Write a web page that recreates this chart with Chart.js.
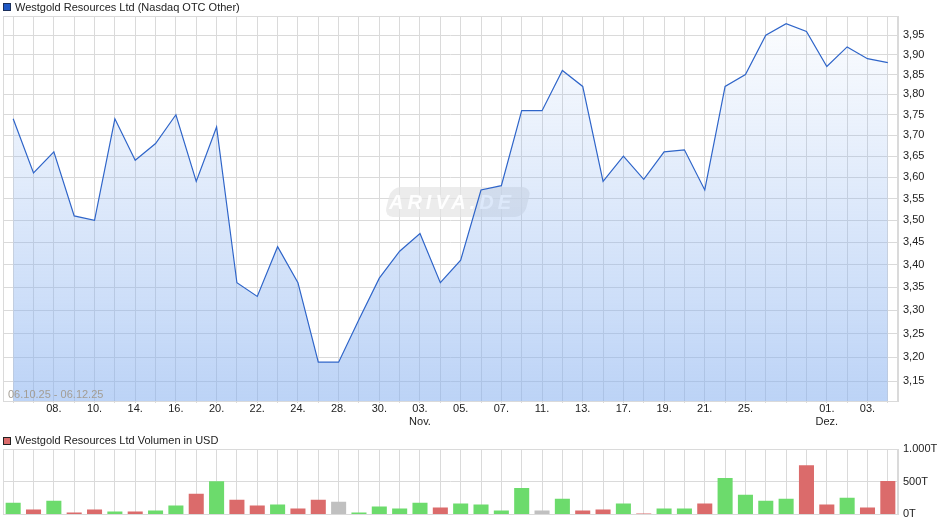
<!DOCTYPE html>
<html>
<head>
<meta charset="utf-8">
<title>Westgold Resources Ltd</title>
<script src="https://cdn.jsdelivr.net/npm/chart.js@4.4.1/dist/chart.umd.min.js"></script>
<style>
  html, body { margin: 0; padding: 0; background: #fff; }
  body { width: 940px; height: 526px; position: relative; overflow: hidden;
         font-family: "Liberation Sans", Arial, sans-serif; }
  canvas { position: absolute; left: 0; }
  #price { top: 0; }
  #volume { top: 430px; }
  .legend { position: absolute; left: 15px; font-size: 11px; line-height: 13px; color: #222; white-space: nowrap; }
  .swatch { position: absolute; left: 3px; box-sizing: border-box; border: 1px solid #1b2f5a; }
  .range { position: absolute; left: 8px; top: 388px; font-size: 11px; line-height: 13px; color: #a39d94; }
</style>
</head>
<body>
<canvas id="price" width="940" height="430"></canvas>
<canvas id="volume" width="940" height="96"></canvas>
<div class="range">06.10.25 - 06.12.25</div>
<span class="swatch" style="top:3px;width:8px;height:8px;background:#1f58c4;"></span>
<div class="legend" style="top:1px;">Westgold Resources Ltd (Nasdaq OTC Other)</div>
<span class="swatch" style="top:437px;width:8px;height:8px;background:#db6b6b;border-color:#222;"></span>
<div class="legend" style="top:434px;">Westgold Resources Ltd Volumen in USD</div>
<script>
// Kursverlauf 06.10.25 - 06.12.25 (Schlusskurse, USD)
const prices = [3.74, 3.61, 3.66, 3.51, 3.50, 3.74, 3.64, 3.68, 3.75, 3.59,
                3.72, 3.36, 3.33, 3.44, 3.36, 3.19, 3.19, 3.28, 3.37, 3.43,
                3.47, 3.36, 3.41, 3.57, 3.58, 3.76, 3.76, 3.86, 3.82, 3.59,
                3.65, 3.595, 3.66, 3.665, 3.57, 3.82, 3.85, 3.95, 3.98, 3.96,
                3.87, 3.92, 3.89, 3.88];

// Volumen in Tausend USD
const volumes = [180, 75, 210, 30, 75, 45, 45, 60, 135, 315,
                 505, 225, 135, 150, 90, 225, 195, 30, 120, 90,
                 180, 105, 165, 150, 60, 405, 60, 240, 60, 75,
                 165, 15, 90, 90, 165, 555, 300, 210, 240, 750,
                 150, 255, 105, 510];

const tickLabels = ['', '', '08.', '', '10.', '', '14.', '', '16.', '',
                    '20.', '', '22.', '', '24.', '', '28.', '', '30.', '',
                    ['03.', 'Nov.'], '', '05.', '', '07.', '', '11.', '', '13.', '',
                    '17.', '', '19.', '', '21.', '', '25.', '', '', '',
                    ['01.', 'Dez.'], '', '03.', ''];

const priceTicks = [3.15, 3.20, 3.25, 3.30, 3.35, 3.40, 3.45, 3.50, 3.55,
                    3.60, 3.65, 3.70, 3.75, 3.80, 3.85, 3.90, 3.95];
const volumeTicks = [0, 500, 1000];

const gridColor = '#dadada';
const upColor = '#6cdb6c';
const downColor = '#db6b6b';
const flatColor = '#c0c0c0';

Chart.defaults.font.family = '"Liberation Sans", Arial, sans-serif';
Chart.defaults.font.size = 11;
Chart.defaults.color = '#222';

// Rahmen um die Zeichenfläche
const frame = {
    id: 'frame',
    beforeDatasetsDraw(chart) {
        const { ctx, chartArea: a } = chart;
        ctx.save();
        ctx.strokeStyle = gridColor;
        ctx.lineWidth = 1;
        ctx.strokeRect(Math.round(a.left) + 0.5, Math.round(a.top) + 0.5,
                       Math.round(a.right - a.left) - 1, Math.round(a.bottom - a.top));
        ctx.restore();
    }
};

// Wasserzeichen unter der Kurslinie
const watermark = {
    id: 'watermark',
    beforeDatasetsDraw(chart) {
        const ctx = chart.ctx;
        const x = 384, y = 187, w = 140, h = 30, r = 9;
        ctx.save();
        ctx.transform(1, 0, -0.25, 1, 0.25 * (y + h), 0);
        ctx.fillStyle = 'rgba(228, 228, 228, 0.7)';
        ctx.beginPath();
        ctx.roundRect(x, y, w, h, r);
        ctx.fill();
        ctx.restore();
        ctx.save();
        ctx.font = 'italic bold 20px "Liberation Sans", Arial, sans-serif';
        ctx.letterSpacing = '4px';
        ctx.fillStyle = 'rgba(255, 255, 255, 0.95)';
        ctx.textAlign = 'center';
        ctx.textBaseline = 'middle';
        ctx.fillText('ARIVA.DE', 452, 203);
        ctx.restore();
    }
};

// Farbe je nach Kursveränderung zum Vortag
const barColors = prices.map((p, i) => {
    if (i === 0 || p > prices[i - 1]) return upColor;
    if (p < prices[i - 1]) return downColor;
    return flatColor;
});

new Chart(document.getElementById('price'), {
    type: 'line',
    data: {
        labels: tickLabels,
        datasets: [{
            data: prices,
            borderColor: '#2f65c9',
            borderWidth: 1.2,
            pointRadius: 0,
            tension: 0,
            fill: 'start',
            backgroundColor: (c) => {
                const area = c.chart.chartArea;
                if (!area) return 'rgba(133, 175, 239, 0.3)';
                const g = c.chart.ctx.createLinearGradient(0, area.top, 0, area.bottom);
                g.addColorStop(0, 'rgba(133, 175, 239, 0.02)');
                g.addColorStop(1, 'rgba(133, 175, 239, 0.55)');
                return g;
            }
        }]
    },
    options: {
        responsive: false,
        animation: false,
        layout: { padding: { left: 3, top: 16, right: 0, bottom: 0 } },
        plugins: { legend: { display: false }, tooltip: { enabled: false } },
        scales: {
            x: {
                offset: true,
                grid: { color: gridColor, offset: false, tickLength: 2 },
                border: { color: gridColor },
                ticks: { autoSkip: false, maxRotation: 0, padding: -1 },
                afterFit: (s) => { s.height = 29; }
            },
            y: {
                type: 'logarithmic',
                position: 'right',
                min: 3.11,
                max: 4.0,
                grid: { color: gridColor, drawTicks: false },
                border: { color: gridColor },
                ticks: {
                    padding: 5,
                    callback: (v) => Number(v).toFixed(2).replace('.', ',')
                },
                afterBuildTicks: (s) => { s.ticks = priceTicks.map(v => ({ value: v })); },
                afterFit: (s) => { s.width = 42; }
            }
        }
    },
    plugins: [frame, watermark]
});

new Chart(document.getElementById('volume'), {
    type: 'bar',
    data: {
        labels: tickLabels,
        datasets: [{
            data: volumes,
            backgroundColor: barColors,
            barPercentage: 0.74,
            categoryPercentage: 1
        }]
    },
    options: {
        responsive: false,
        animation: false,
        layout: { padding: { left: 3, top: 19, right: 0, bottom: 0 } },
        plugins: { legend: { display: false }, tooltip: { enabled: false } },
        scales: {
            x: {
                grid: { color: gridColor, offset: false, drawTicks: false },
                border: { color: gridColor },
                ticks: { display: false },
                afterFit: (s) => { s.height = 10; }
            },
            y: {
                position: 'right',
                min: 0,
                max: 1000,
                grid: { color: gridColor, drawTicks: false },
                border: { color: gridColor },
                ticks: {
                    padding: 5,
                    callback: (v) => (v >= 1000 ? '1.000' : String(v)) + 'T'
                },
                afterBuildTicks: (s) => { s.ticks = volumeTicks.map(v => ({ value: v })); },
                afterFit: (s) => { s.width = 42; }
            }
        }
    },
    plugins: [frame]
});
</script>
</body>
</html>
